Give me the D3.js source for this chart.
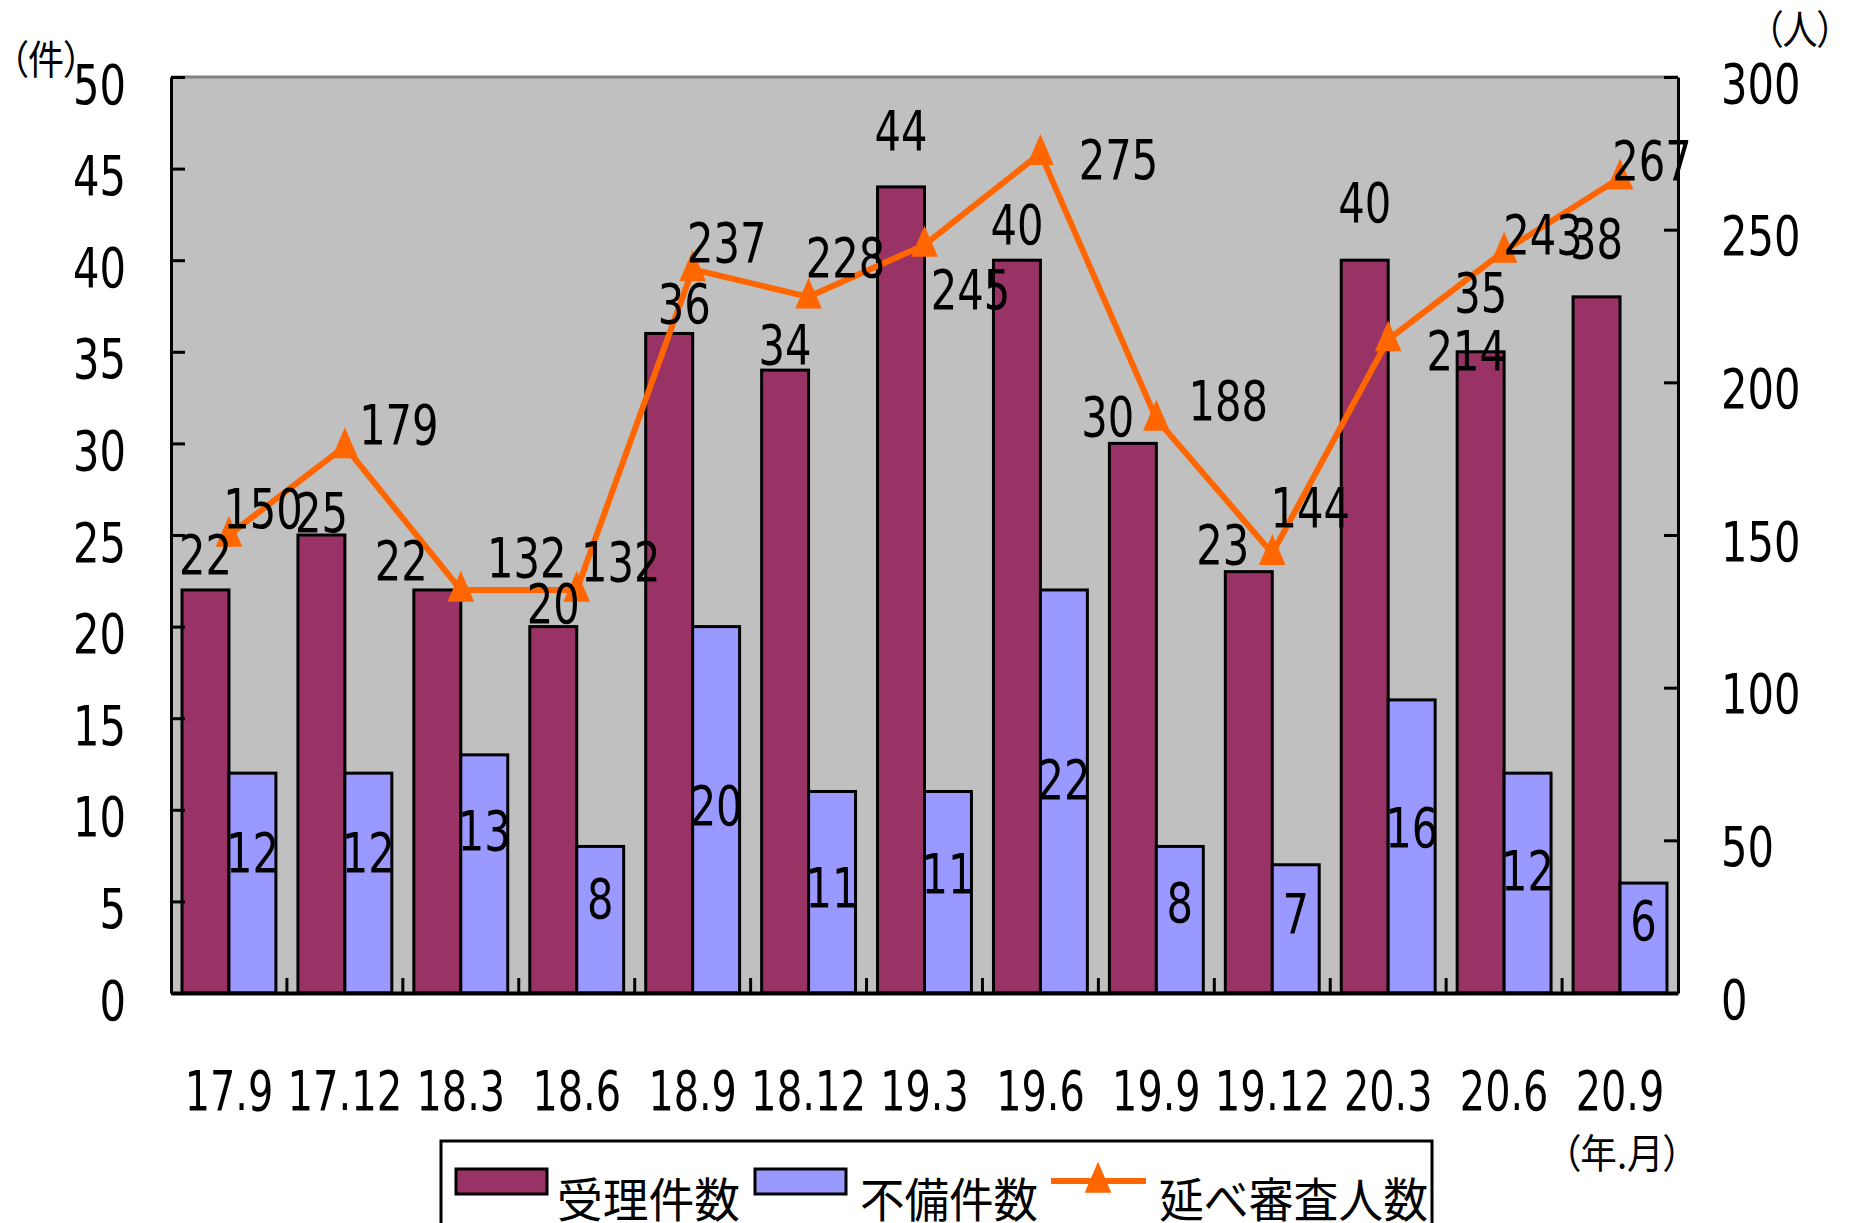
<!DOCTYPE html>
<html>
<head>
<meta charset="utf-8">
<script src="https://cdn.jsdelivr.net/npm/d3@7"></script>
<style>
body { margin: 0; background: #fff; }
text { fill: #000; }
</style>
</head>
<body>
<svg id="chart" width="1852" height="1223"></svg>
<script>
"use strict";

//chart values
var periods = ["17.9", "17.12", "18.3", "18.6", "18.9", "18.12", "19.3", "19.6", "19.9", "19.12", "20.3", "20.6", "20.9"];
var accepted = [22, 25, 22, 20, 36, 34, 44, 40, 30, 23, 40, 35, 38];
var defective = [12, 12, 13, 8, 20, 11, 11, 22, 8, 7, 16, 12, 6];
var examinees = [150, 179, 132, 132, 237, 228, 245, 275, 188, 144, 214, 243, 267];
var leftTicks = [0, 5, 10, 15, 20, 25, 30, 35, 40, 45, 50];
var rightTicks = [0, 50, 100, 150, 200, 250, 300];
var seriesNames = ["受理件数", "不備件数", "延べ審査人数"];

//the data labels in the original were dragged around by hand, these are the nudges in px
var acceptedLabelGap = [16, 3, 10, 4, 10, 6, 37, 16, 7, 8, 38, 40, 39];
var acceptedLabelShift = [0, 0, -36, 0, 15, 0, 0, 0, -25, -26, 0, 0, 0];
var defectiveLabelShift = [-13, -13, -26, -4, 13, 13, -1, 6, 0, 2, -1, 5, 0];
var examineeLabelShift = [[34, -27], [54, -22], [66, -33], [44, -29], [34, -27], [37, -40], [46, 44],
	[78, 6], [72, -19], [38, -46], [78, 10], [39, -17], [32, -18]];

var numFont = "'DejaVu Sans Condensed', 'DejaVu Sans', sans-serif";
var jpFont = "'Noto Sans CJK JP', 'Noto Sans', sans-serif";
var numSize = 55;
var colAccepted = "#993366";
var colDefective = "#9999ff";
var colLine = "#ff6600";

var plotLeft = 171, plotRight = 1678, plotTop = 77, plotBottom = 993;

var svg = d3.select("#chart");

var x = d3.scaleBand().domain(periods).range([plotLeft, plotRight]).padding(0);
var step = x.bandwidth();
var barW = step * 0.405;
var yL = d3.scaleLinear().domain([0, 50]).range([plotBottom, plotTop]);
var yR = d3.scaleLinear().domain([0, 300]).range([plotBottom, plotTop]);

function cx(i){ return x(periods[i]) + step / 2; }

//the original numbers are set in a tall half-width face: fixed digit cells, thin dot
function narrow(selection){
	selection
		.style("font-family", numFont)
		.style("font-size", numSize + "px")
		.each(function(){
			var s = this.textContent;
			var dots = s.split(".").length - 1;
			var w = (s.length - dots) * 26.5 + dots * 9;
			d3.select(this).attr("textLength", w).attr("lengthAdjust", "spacingAndGlyphs");
		});
}

//plot area background and top border
svg.append("rect")
	.attr("x", plotLeft)
	.attr("y", plotTop)
	.attr("width", plotRight - plotLeft)
	.attr("height", plotBottom - plotTop)
	.style("fill", "#c0c0c0");
svg.append("line")
	.attr("x1", plotLeft).attr("x2", plotRight)
	.attr("y1", plotTop).attr("y2", plotTop)
	.style("stroke", "#808080")
	.style("stroke-width", "3px");

//bars
svg.selectAll(".acc")
	.data(accepted)
	.enter()
	.append("rect")
	.attr("class", "acc")
	.attr("x", function(d, i){ return cx(i) - barW; })
	.attr("y", function(d){ return yL(d); })
	.attr("width", barW)
	.attr("height", function(d){ return plotBottom - yL(d); })
	.style("fill", colAccepted)
	.style("stroke", "#000")
	.style("stroke-width", "3px");

svg.selectAll(".def")
	.data(defective)
	.enter()
	.append("rect")
	.attr("class", "def")
	.attr("x", function(d, i){ return cx(i); })
	.attr("y", function(d){ return yL(d); })
	.attr("width", barW)
	.attr("height", function(d){ return plotBottom - yL(d); })
	.style("fill", colDefective)
	.style("stroke", "#000")
	.style("stroke-width", "3px");

//left axis, ticks point inward
var axL = svg.append("g")
	.attr("transform", "translate(" + plotLeft + ",0)")
	.call(d3.axisLeft(yL).tickValues(leftTicks).tickSizeInner(-14).tickSizeOuter(0).tickPadding(45));
axL.select(".domain").style("stroke-width", "3px");
axL.selectAll(".tick line").style("stroke-width", "3px");
axL.selectAll(".tick text")
	.attr("dy", 26)
	.call(narrow);

//right axis
var axR = svg.append("g")
	.attr("transform", "translate(" + plotRight + ",0)")
	.call(d3.axisRight(yR).tickValues(rightTicks).tickSizeInner(-14).tickSizeOuter(0).tickPadding(43));
axR.select(".domain").style("stroke-width", "3px");
axR.selectAll(".tick line").style("stroke-width", "3px");
axR.selectAll(".tick text")
	.attr("dy", 25)
	.call(narrow);

//bottom axis: labels under the categories, small ticks on the category borders
var axB = svg.append("g")
	.attr("transform", "translate(0," + plotBottom + ")")
	.call(d3.axisBottom(x).tickSize(0).tickPadding(0));
axB.select(".domain").style("stroke-width", "4px");
axB.selectAll(".tick text")
	.attr("y", 117)
	.attr("dy", 0)
	.call(narrow);

svg.selectAll(".catTick")
	.data(periods.slice(1))
	.enter()
	.append("line")
	.attr("class", "catTick")
	.attr("x1", function(d){ return x(d); })
	.attr("x2", function(d){ return x(d); })
	.attr("y1", plotBottom)
	.attr("y2", plotBottom - 15)
	.style("stroke", "#000")
	.style("stroke-width", "3px");

//examinee line on the right axis
var line = d3.line()
	.x(function(d, i){ return cx(i); })
	.y(function(d){ return yR(d); });

svg.append("path")
	.datum(examinees)
	.attr("d", line)
	.style("fill", "none")
	.style("stroke", colLine)
	.style("stroke-width", "6px")
	.style("stroke-linejoin", "miter");

//the markers are taller than an equilateral triangle
var tallTriangle = {
	draw: function(context, size){
		var h = Math.sqrt(size);
		context.moveTo(0, -h * 0.62);
		context.lineTo(h * 0.43, h * 0.38);
		context.lineTo(-h * 0.43, h * 0.38);
		context.closePath();
	}
};
var marker = d3.symbol().type(tallTriangle).size(960);

svg.selectAll(".mark")
	.data(examinees)
	.enter()
	.append("path")
	.attr("class", "mark")
	.attr("d", marker)
	.attr("transform", function(d, i){ return "translate(" + cx(i) + "," + yR(d) + ")"; })
	.style("fill", colLine);

//data labels
svg.selectAll(".accLabel")
	.data(accepted)
	.enter()
	.append("text")
	.attr("class", "accLabel")
	.attr("text-anchor", "middle")
	.attr("x", function(d, i){ return cx(i) - barW / 2 + acceptedLabelShift[i]; })
	.attr("y", function(d, i){ return yL(d) - acceptedLabelGap[i]; })
	.text(function(d){ return d; })
	.call(narrow);

svg.selectAll(".defLabel")
	.data(defective)
	.enter()
	.append("text")
	.attr("class", "defLabel")
	.attr("text-anchor", "middle")
	.attr("x", function(d, i){ return cx(i) + barW / 2; })
	.attr("y", function(d, i){ return yL(d / 2) + 2 + defectiveLabelShift[i]; })
	.text(function(d){ return d; })
	.call(narrow);

svg.selectAll(".exLabel")
	.data(examinees)
	.enter()
	.append("text")
	.attr("class", "exLabel")
	.attr("text-anchor", "middle")
	.attr("x", function(d, i){ return cx(i) + examineeLabelShift[i][0]; })
	.attr("y", function(d, i){ return yR(d) + examineeLabelShift[i][1] + 20; })
	.text(function(d){ return d; })
	.call(narrow);

//unit captions, proportional brackets like the original face
function caption(tx, ty, w, s){
	svg.append("text")
		.attr("x", tx).attr("y", ty)
		.attr("textLength", w).attr("lengthAdjust", "spacingAndGlyphs")
		.style("font-family", jpFont).style("font-size", "40px")
		.style("font-feature-settings", "'palt'")
		.text(s);
}
caption(10, 74, 72, "（件）");
caption(1765, 44, 70, "（人）");
caption(1562, 1168, 120, "（年.月）");

//legend, its box runs off the bottom of the picture
var legend = svg.append("g");
legend.append("rect")
	.attr("x", 441).attr("y", 1141)
	.attr("width", 991).attr("height", 120)
	.style("fill", "#fff")
	.style("stroke", "#000")
	.style("stroke-width", "3px");

legend.append("rect")
	.attr("x", 456).attr("y", 1169).attr("width", 91).attr("height", 25)
	.style("fill", colAccepted).style("stroke", "#000").style("stroke-width", "3px");
legend.append("rect")
	.attr("x", 755).attr("y", 1169).attr("width", 91).attr("height", 25)
	.style("fill", colDefective).style("stroke", "#000").style("stroke-width", "3px");
legend.append("line")
	.attr("x1", 1051).attr("x2", 1146).attr("y1", 1181).attr("y2", 1181)
	.style("stroke", colLine).style("stroke-width", "6px");
legend.append("path")
	.attr("d", marker)
	.attr("transform", "translate(1098,1181)")
	.style("fill", colLine);

var legendText = [[557, 183], [860, 178], [1159, 269]];
legend.selectAll(".legText")
	.data(seriesNames)
	.enter()
	.append("text")
	.attr("class", "legText")
	.attr("x", function(d, i){ return legendText[i][0]; })
	.attr("y", 1217)
	.attr("textLength", function(d, i){ return legendText[i][1]; })
	.attr("lengthAdjust", "spacingAndGlyphs")
	.style("font-family", jpFont)
	.style("font-size", "47px")
	.text(function(d){ return d; });
</script>
</body>
</html>
